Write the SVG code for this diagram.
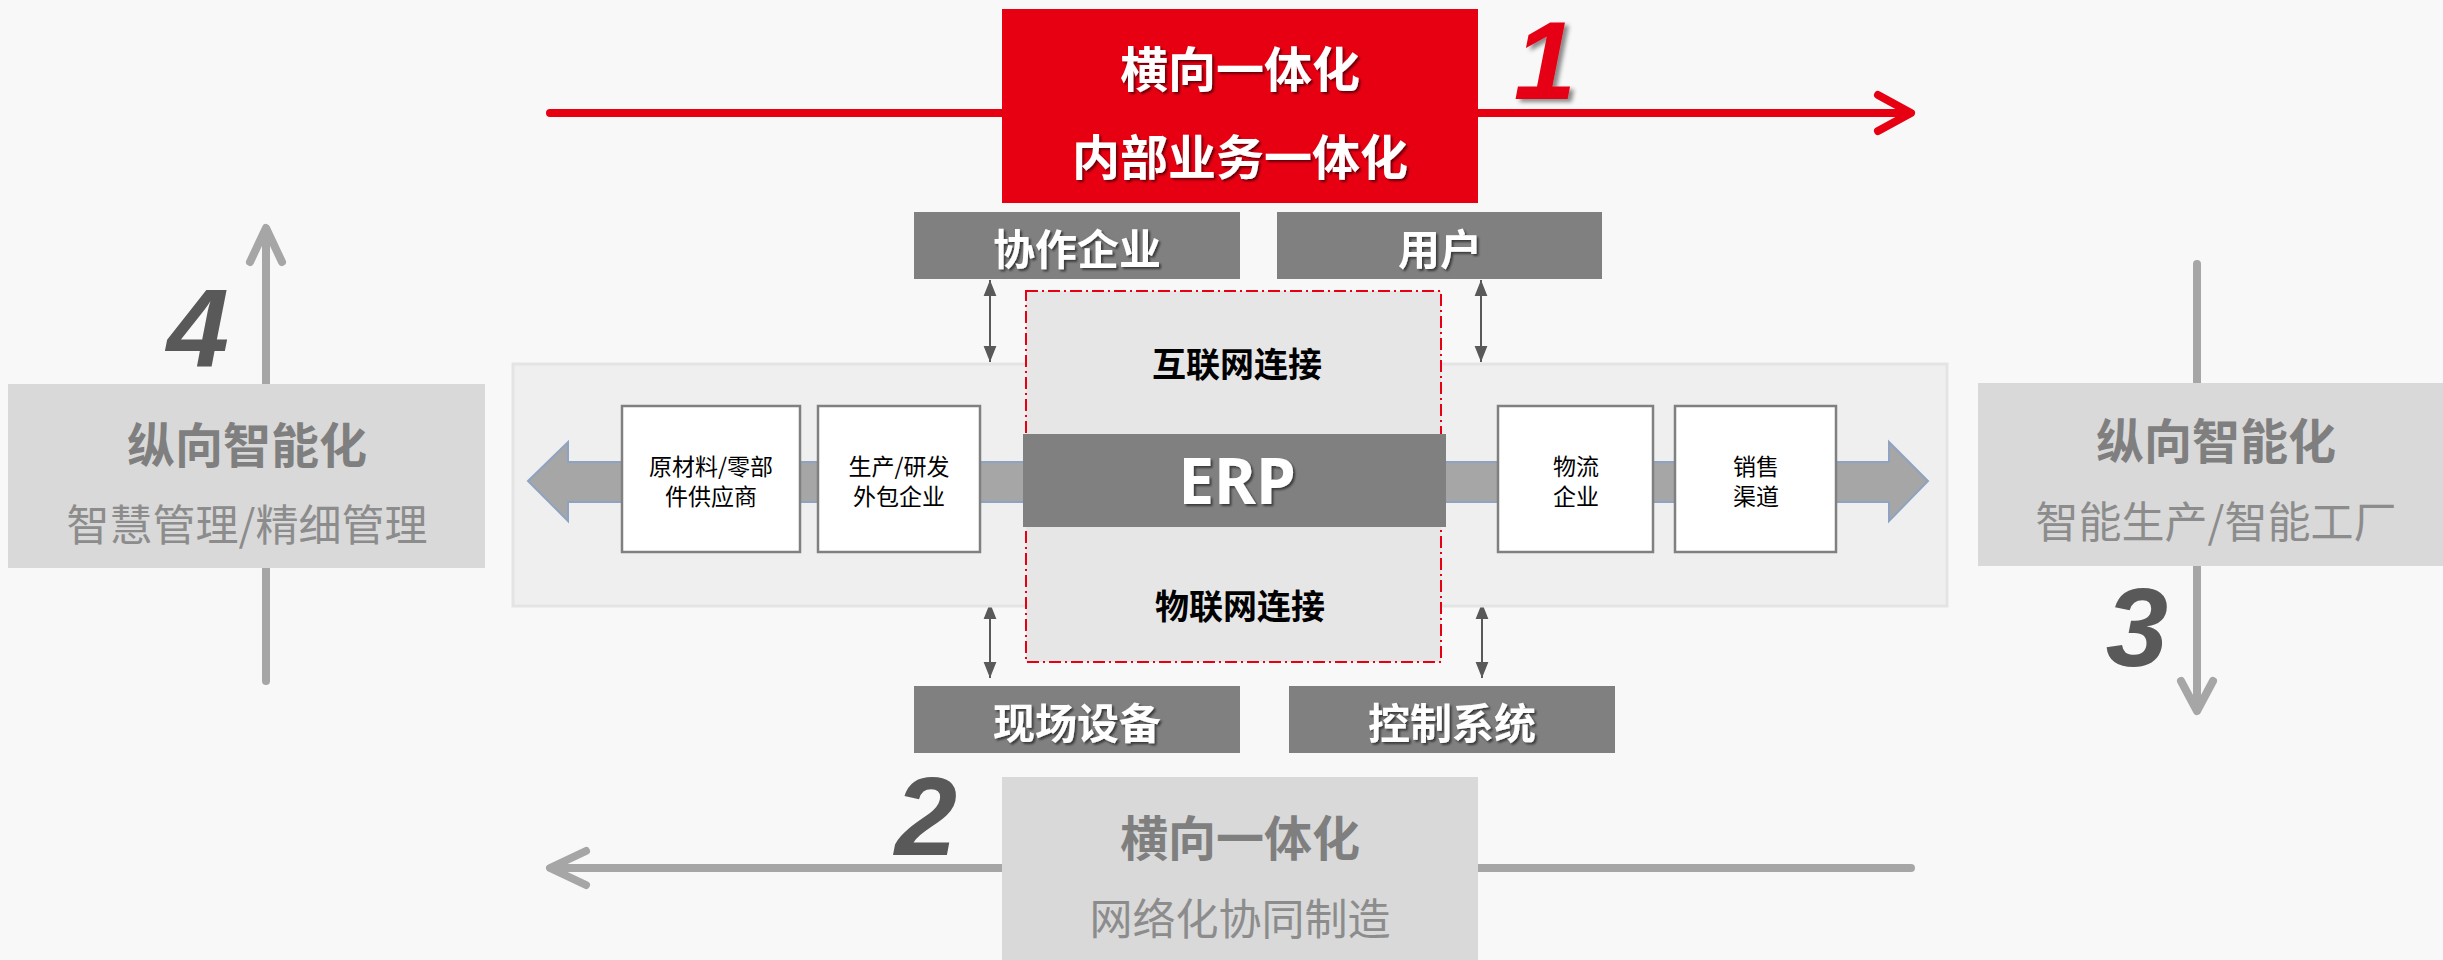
<svg xmlns="http://www.w3.org/2000/svg" width="2443" height="960" viewBox="0 0 2443 960">
<defs>
<style>
.cjk{font-family:"Noto Sans CJK SC","Noto Sans",sans-serif;text-anchor:middle;dominant-baseline:central}
.b{font-weight:700}
.t48{font-size:48px}
.t42{font-size:42px}
.t43{font-size:43px}
.t34{font-size:34px}
.t25{font-size:23px}
.num{font-family:"Liberation Sans",Arial,sans-serif;font-style:italic;font-weight:700;font-size:112px;text-anchor:middle;fill:#595959}
.dark{fill:#808080}
.light{fill:#d9d9d9}
.wbox{fill:#ffffff;stroke:#808080;stroke-width:2.5}
.gline{stroke:#a6a6a6;stroke-width:8;fill:none;stroke-linecap:round;stroke-linejoin:round}
.rline{stroke:#e60012;stroke-width:8;fill:none;stroke-linecap:round;stroke-linejoin:round}
.dbl{stroke:#595959;stroke-width:2;marker-start:url(#ah);marker-end:url(#ah)}
</style>
<marker id="ah" markerUnits="userSpaceOnUse" markerWidth="16" markerHeight="22" refX="20" refY="8" viewBox="0 0 20 16" orient="auto-start-reverse">
<path d="M0,0 L20,8 L0,16 Z" fill="#595959"/>
</marker>
<filter id="sh" x="-10%" y="-20%" width="130%" height="150%">
<feDropShadow dx="2" dy="2" stdDeviation="1" flood-color="#000" flood-opacity="0.55"/>
</filter>
<filter id="sh2" x="-20%" y="-20%" width="150%" height="150%">
<feDropShadow dx="4" dy="3" stdDeviation="2" flood-color="#000" flood-opacity="0.45"/>
</filter>
</defs>
<rect x="0" y="0" width="2443" height="960" fill="#f8f8f8"/>

<g id="connectors">
<path class="rline" d="M550,113 L1907,113"/>
<path class="rline" d="M1878,95 L1911,113 L1878,131"/>
<path class="gline" d="M266,232 L266,681"/>
<path class="gline" d="M250,262 L266,228 L282,262"/>
<path class="gline" d="M2197,264 L2197,707"/>
<path class="gline" d="M2181,681 L2197,711 L2213,681"/>
<path class="gline" d="M554,868 L1911,868"/>
<path class="gline" d="M586,851 L550,868 L586,885"/>
<line class="dbl" x1="990" y1="280" x2="990" y2="362"/>
<line class="dbl" x1="1481" y1="280" x2="1481" y2="362"/>
<line class="dbl" x1="990" y1="603" x2="990" y2="678"/>
<line class="dbl" x1="1482" y1="603" x2="1482" y2="678"/>
</g>

<g id="panel">
<rect x="513" y="364" width="1434" height="242" fill="#efefef" stroke="#e4e4e4" stroke-width="3"/>
<polygon points="528,481 568,442 568,462 1889,462 1889,442 1928,481 1889,521 1889,502 568,502 568,521" fill="#a6a6a6" stroke="#8ea3c2" stroke-width="2"/>
</g>

<g id="network">
<rect x="1026" y="291" width="415" height="371" fill="#e6e6e6" stroke="#e60012" stroke-width="2" stroke-dasharray="12 4 2 4"/>
<text class="cjk b t34" x="1237" y="362" fill="#000">互联网连接</text>
<text class="cjk b t34" x="1240" y="604" fill="#000">物联网连接</text>
</g>

<g id="erp">
<rect x="1023" y="434" width="423" height="93" class="dark"/>
<text x="1237" y="504" font-family="'Noto Sans','Open Sans',sans-serif" font-weight="700" font-size="64" fill="#ffffff" text-anchor="middle" filter="url(#sh)">ERP</text>
</g>

<g id="top-red">
<rect x="1002" y="9" width="476" height="194" fill="#e60012"/>
<text class="cjk b t48" x="1240" y="66" fill="#ffffff" filter="url(#sh)">横向一体化</text>
<text class="cjk b t48" x="1240" y="154" fill="#ffffff" filter="url(#sh)">内部业务一体化</text>
</g>
<g id="num1"><text class="num" x="1545" y="99" style="fill:#e60012" filter="url(#sh2)">1</text></g>
<g id="num2"><text class="num" x="926" y="855">2</text></g>
<g id="num3"><text class="num" x="2137" y="666">3</text></g>
<g id="num4"><text class="num" x="198" y="367">4</text></g>

<g id="xiezuo">
<rect x="914" y="212" width="326" height="67" class="dark"/>
<text class="cjk b t42" x="1077" y="246" fill="#ffffff" filter="url(#sh)">协作企业</text>
</g>
<g id="yonghu">
<rect x="1277" y="212" width="325" height="67" class="dark"/>
<text class="cjk b t42" x="1440" y="246" fill="#ffffff" filter="url(#sh)">用户</text>
</g>
<g id="xianchang">
<rect x="914" y="686" width="326" height="67" class="dark"/>
<text class="cjk b t42" x="1077" y="720" fill="#ffffff" filter="url(#sh)">现场设备</text>
</g>
<g id="kongzhi">
<rect x="1289" y="686" width="326" height="67" class="dark"/>
<text class="cjk b t42" x="1452" y="720" fill="#ffffff" filter="url(#sh)">控制系统</text>
</g>

<g id="supplier">
<rect x="622" y="406" width="178" height="146" class="wbox"/>
<text class="cjk t25" x="711" y="465" fill="#000">原材料/零部</text>
<text class="cjk t25" x="711" y="495" fill="#000">件供应商</text>
</g>
<g id="outsource">
<rect x="818" y="406" width="162" height="146" class="wbox"/>
<text class="cjk t25" x="899" y="465" fill="#000">生产/研发</text>
<text class="cjk t25" x="899" y="495" fill="#000">外包企业</text>
</g>
<g id="logistics">
<rect x="1498" y="406" width="155" height="146" class="wbox"/>
<text class="cjk t25" x="1576" y="465" fill="#000">物流</text>
<text class="cjk t25" x="1576" y="495" fill="#000">企业</text>
</g>
<g id="sales">
<rect x="1675" y="406" width="161" height="146" class="wbox"/>
<text class="cjk t25" x="1756" y="465" fill="#000">销售</text>
<text class="cjk t25" x="1756" y="495" fill="#000">渠道</text>
</g>

<g id="left-box">
<rect x="8" y="384" width="477" height="184" class="light"/>
<text class="cjk b t48" x="247" y="442" fill="#7f7f7f">纵向智能化</text>
<text class="cjk t43" x="247" y="522" fill="#8c8c8c">智慧管理/精细管理</text>
</g>
<g id="right-box">
<rect x="1978" y="383" width="477" height="183" class="light"/>
<text class="cjk b t48" x="2216" y="438" fill="#7f7f7f">纵向智能化</text>
<text class="cjk t43" x="2216" y="519" fill="#8c8c8c">智能生产/智能工厂</text>
</g>
<g id="bottom-box">
<rect x="1002" y="777" width="476" height="190" class="light"/>
<text class="cjk b t48" x="1240" y="835" fill="#7f7f7f">横向一体化</text>
<text class="cjk t43" x="1240" y="916" fill="#8c8c8c">网络化协同制造</text>
</g>
</svg>
